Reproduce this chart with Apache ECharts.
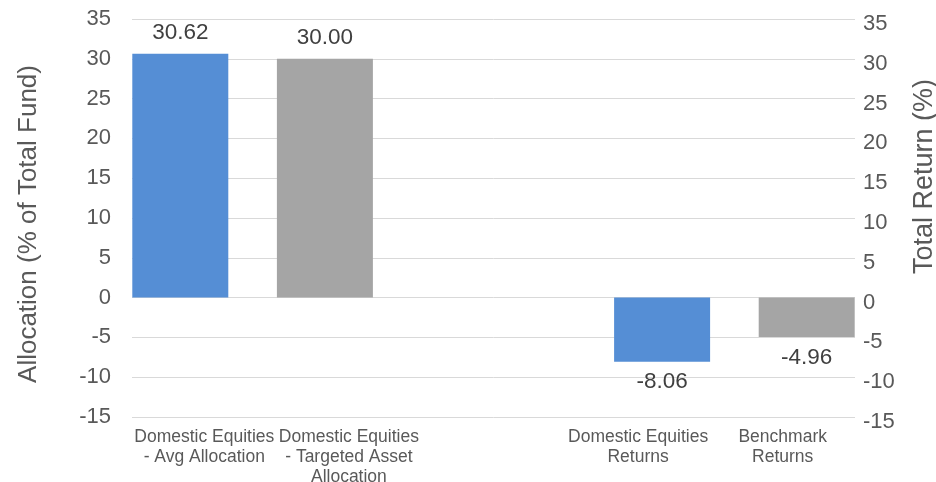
<!DOCTYPE html>
<html>
<head>
<meta charset="utf-8">
<script src="https://cdn.jsdelivr.net/npm/echarts@6/dist/echarts.min.js"></script>
<style>html,body{margin:0;padding:0;background:#fff;}#c{width:936px;height:482px;}</style>
</head>
<body>
<div id="c"></div>
<script>
const categories = [
  "Domestic Equities\n- Avg Allocation",
  "Domestic Equities\n- Targeted Asset\nAllocation",
  "",
  "Domestic Equities\nReturns",
  "Benchmark\nReturns"
];
const allocationValues = [30.62, 30.00, null, null, null];
const returnValues = [null, null, null, -8.06, -4.96];
const barColors = ["#558ED5", "#A5A5A5", "#558ED5", "#558ED5", "#A5A5A5"];
const leftAxisName = "Allocation (% of Total Fund)";
const rightAxisName = "Total Return (%)";
const axisMin = -15, axisMax = 35, axisStep = 5;

const FONT = "Liberation Sans, Arial, sans-serif";
function toData(vals) {
  return vals.map((v, i) => v === null ? '-' : { value: v, itemStyle: { color: barColors[i] } });
}
const chart = echarts.init(document.getElementById('c'), null, { renderer: 'canvas' });
chart.setOption({
  animation: false,
  backgroundColor: '#ffffff',
  grid: { left: 132, right: 81, top: 19, bottom: 65, containLabel: false, outerBoundsMode: 'none' },
  xAxis: {
    type: 'category',
    data: categories,
    axisLine: { show: false },
    axisTick: { show: false },
    axisLabel: { interval: 0, color: '#595959', fontFamily: FONT, fontSize: 17.5, lineHeight: 20, margin: 10 }
  },
  yAxis: [
    {
      type: 'value', min: axisMin, max: axisMax, interval: axisStep,
      name: leftAxisName, nameLocation: 'middle', nameGap: 90,
      nameTextStyle: { color: '#595959', fontFamily: FONT, fontSize: 26, padding: [0, 12, 0, 0] },
      axisLine: { show: false }, axisTick: { show: false },
      axisLabel: { color: '#595959', fontFamily: FONT, fontSize: 22, margin: 21 },
      splitLine: { lineStyle: { color: '#D9D9D9', width: 1 } }
    },
    {
      type: 'value', min: axisMin, max: axisMax, interval: axisStep, position: 'right',
      name: rightAxisName, nameLocation: 'middle', nameGap: 56,
      nameTextStyle: { color: '#595959', fontFamily: FONT, fontSize: 27, padding: [0, 0, 0, 83] },
      axisLine: { show: false }, axisTick: { show: false },
      axisLabel: { color: '#595959', fontFamily: FONT, fontSize: 22, margin: 8, verticalAlign: 'top', lineHeight: 10 },
      splitLine: { show: false }
    }
  ],
  series: [
    {
      type: 'bar', yAxisIndex: 0, data: toData(allocationValues),
      barWidth: 96, barGap: '-50%',
      label: { show: true, position: 'top', distance: 10, color: '#404040', fontFamily: FONT, fontSize: 22.5,
        formatter: p => Number(p.value).toFixed(2) }
    },
    {
      type: 'bar', yAxisIndex: 1, data: toData(returnValues),
      barWidth: 96, barGap: '-50%',
      label: { show: true, position: 'bottom', distance: 9, color: '#404040', fontFamily: FONT, fontSize: 22.5,
        formatter: p => Number(p.value).toFixed(2) }
    }
  ]
});
</script>
</body>
</html>
